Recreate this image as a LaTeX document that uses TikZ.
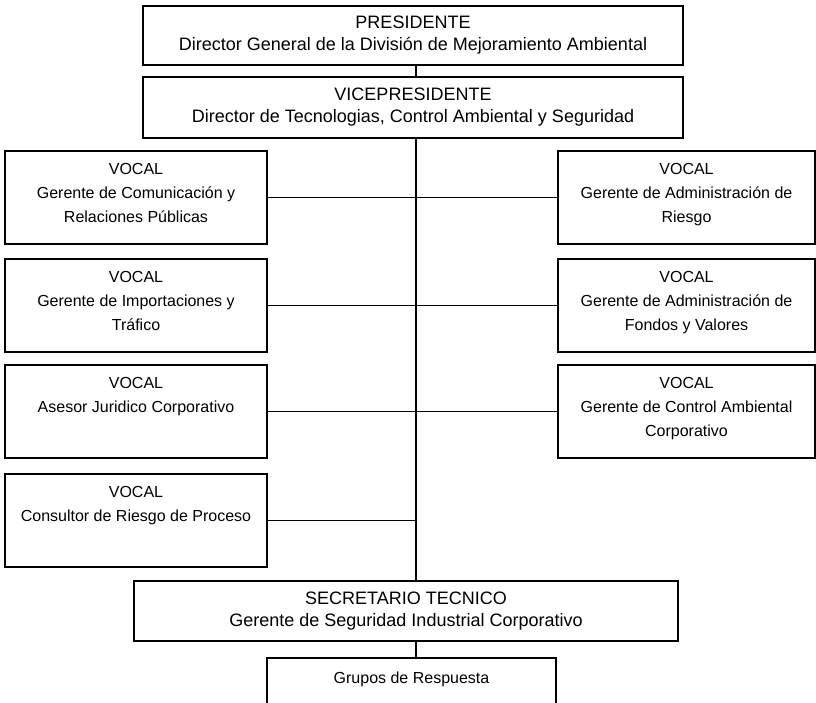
\documentclass[tikz,border=0pt]{standalone}
\usepackage{fontspec}
\setmainfont{Liberation Sans}
\usepackage{tikz}
\usetikzlibrary{positioning,calc}
\newcommand{\toptext}{\fontsize{13.5}{16.5}\selectfont}
\newcommand{\vocaltext}{\fontsize{12}{18}\selectfont}
\newcommand{\vocalleft}[1]{\parbox[c][69.75pt][t]{190pt}{\centering\vspace*{9pt}VOCAL\\#1}}
\newcommand{\vocalright}[1]{\parbox[c][69.75pt][t]{186pt}{\centering\vspace*{9pt}VOCAL\\#1}}
\tikzset{
orgbox/.style={rectangle,draw,line width=1.3pt,align=center,inner sep=0pt},
orgtop/.style={orgbox,minimum width=405pt,minimum height=44.25pt,font=\toptext},
orgvocl/.style={orgbox,minimum width=196.5pt,minimum height=69.75pt,font=\vocaltext},
orgvocr/.style={orgbox,minimum width=192.75pt,minimum height=69.75pt,font=\vocaltext},
orgsec/.style={orgbox,minimum width=408pt,minimum height=45pt,font=\toptext},
orggrp/.style={orgbox,minimum width=216.75pt,minimum height=45pt,font=\vocaltext},
orgline/.style={line width=1pt}
}

\begin{document}
\begin{tikzpicture}[
x=0.75pt,
y=-0.75pt
]
\path[use as bounding box] (0,0) rectangle (816,702);
\clip (0,0) rectangle (816,702);
\node[orgtop] (pres) at (413,35.5) {PRESIDENTE\\Director General de la División de Mejoramiento Ambiental};
\node[orgtop,minimum height=45.75pt] (vice) at (413,107.5) {VICEPRESIDENTE\\Director de Tecnologias, Control Ambiental y Seguridad};
\node[orgvocl] (comunic) at (136,197.5) {\vocalleft{Gerente de Comunicación y\\Relaciones Públicas}};
\node[orgvocl] (import) at (136,305.5) {\vocalleft{Gerente de Importaciones y\\Tráfico}};
\node[orgvocl] (juridico) at (136,411.5) {\vocalleft{Asesor Juridico Corporativo}};
\node[orgvocl] (proceso) at (136,520.5) {\vocalleft{Consultor de Riesgo de Proceso}};
\node[orgvocr] (riesgo) at (686.5,197.5) {\vocalright{Gerente de Administración de\\Riesgo}};
\node[orgvocr] (fondos) at (686.5,305.5) {\vocalright{Gerente de Administración de\\Fondos y Valores}};
\node[orgvocr] (ambiental) at (686.5,411.5) {\vocalright{Gerente de Control Ambiental\\Corporativo}};
\node[orgsec] (sec) at (406,611) {SECRETARIO TECNICO\\Gerente de Seguridad Industrial Corporativo};
\node[orggrp] (grupos) at (411.5,688) {\parbox[c][45pt][t]{210pt}{\centering\vspace*{10.5pt}Grupos de Respuesta}};
\coordinate (spine) at (416,0);
\draw[orgline] (pres.south -| spine)--(vice.north -| spine);
\draw[orgline] (vice.south -| spine)--(sec.north -| spine);
\draw[orgline] (sec.south -| spine)--(grupos.north -| spine);
\draw[orgline] (comunic.east)--(riesgo.west);
\draw[orgline] (import.east)--(fondos.west);
\draw[orgline] (juridico.east)--(ambiental.west);
\draw[orgline] (proceso.east)--(proceso.east -| spine);
\end{tikzpicture}
\end{document}
